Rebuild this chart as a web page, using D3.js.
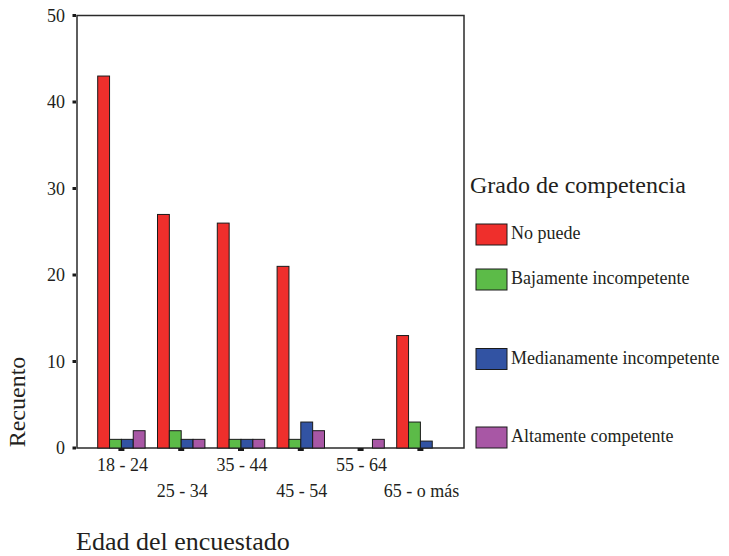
<!DOCTYPE html>
<html>
<head>
<meta charset="utf-8">
<script src="https://cdn.jsdelivr.net/npm/d3@7"></script>
<style>
  body { margin: 0; background: #fff; }
  svg text { font-family: "Liberation Serif", Tinos, "Times New Roman", Times, "DejaVu Serif", serif; fill: #231f20; }
</style>
</head>
<body>
<div id="chart"></div>
<script>
// age groups and counts per competence level
const ageGroups = ["18 - 24", "25 - 34", "35 - 44", "45 - 54", "55 - 64", "65 - o más"];
const levels = ["No puede", "Bajamente incompetente", "Medianamente incompetente", "Altamente competente"];
const noPuede = [43, 27, 26, 21, 0, 13];
const bajamente = [1, 2, 1, 1, 0, 3];
const medianamente = [1, 1, 1, 3, 0, 0.8];
const altamente = [2, 1, 1, 2, 1, 0];
const levelColors = ["#ef2f2c", "#5cbb48", "#3253a3", "#a857a5"];
const yTicks = [0, 10, 20, 30, 40, 50];

const seriesValues = [noPuede, bajamente, medianamente, altamente];

let width = 729, height = 556;
let frame = {left: 77, top: 15.5, right: 464, bottom: 448};

let svg = d3.select("#chart")
    .append("svg")
        .attr("width", width)
        .attr("height", height);

let yScale = d3.scaleLinear()
    .domain([0, 50])
    .range([frame.bottom, frame.top]);

let xScale = d3.scaleBand()
    .domain(ageGroups)
    .range([91.5, 450.3]);

let barScale = d3.scaleBand()
    .domain(levels)
    .range([6.2, xScale.bandwidth() - 6.2]);

let colorScale = d3.scaleOrdinal()
    .domain(levels)
    .range(levelColors);

// flat list of bars, empty counts are not drawn
let bars = [];
ageGroups.forEach((g, i) => {
    levels.forEach((l, j) => {
        let v = seriesValues[j][i];
        if (v > 0) bars.push({group: g, level: l, value: v});
    });
});

// frame
svg.append("rect")
    .attr("x", frame.left)
    .attr("y", frame.top)
    .attr("width", frame.right - frame.left)
    .attr("height", frame.bottom - frame.top)
    .attr("fill", "none")
    .attr("stroke", "#2a2a2a")
    .attr("stroke-width", 1.5);

// bars
svg.selectAll(".bar")
    .data(bars)
    .enter()
    .append("rect")
        .attr("class", "bar")
        .attr("x", d => xScale(d.group) + barScale(d.level))
        .attr("y", d => yScale(d.value))
        .attr("width", barScale.bandwidth())
        .attr("height", d => yScale(0) - yScale(d.value))
        .attr("fill", d => colorScale(d.level))
        .attr("stroke", "#1a1a1a")
        .attr("stroke-width", 1);

// y axis: small square ticks + labels
let yAxis = svg.append("g");
yAxis.selectAll("rect")
    .data(yTicks)
    .enter()
    .append("rect")
        .attr("x", frame.left - 4.5)
        .attr("y", d => yScale(d) - 1.5)
        .attr("width", 3.5)
        .attr("height", 3)
        .attr("fill", "#1a1a1a");
yAxis.selectAll("text")
    .data(yTicks)
    .enter()
    .append("text")
        .attr("x", 65)
        .attr("y", d => yScale(d) + 6)
        .attr("text-anchor", "end")
        .style("font-size", "18px")
        .text(d => d);

// x axis: ticks under the frame, labels on two rows
let xAxis = svg.append("g");
xAxis.selectAll("rect")
    .data(ageGroups)
    .enter()
    .append("rect")
        .attr("x", d => xScale(d) + xScale.bandwidth() / 2 - 3)
        .attr("y", frame.bottom)
        .attr("width", 6)
        .attr("height", 3)
        .attr("fill", "#1a1a1a");
xAxis.selectAll("text")
    .data(ageGroups)
    .enter()
    .append("text")
        .attr("x", d => xScale(d) + xScale.bandwidth() / 2 + 1)
        .attr("y", (d, i) => i % 2 == 0 ? 471 : 497)
        .attr("text-anchor", "middle")
        .style("font-size", "18px")
        .text(d => d);

// axis titles
svg.append("text")
    .attr("transform", "translate(25,402) rotate(-90)")
    .attr("text-anchor", "middle")
    .style("font-size", "24px")
    .text("Recuento");

svg.append("text")
    .attr("x", 76)
    .attr("y", 550)
    .style("font-size", "26px")
    .text("Edad del encuestado");

// legend
let legendY = [224, 269, 348.5, 427];
let legend = svg.append("g");
legend.append("text")
    .attr("x", 470)
    .attr("y", 193)
    .style("font-size", "24px")
    .text("Grado de competencia");

let items = legend.selectAll(".item")
    .data(levels)
    .enter()
    .append("g")
        .attr("class", "item")
        .attr("transform", (d, i) => "translate(476," + legendY[i] + ")");
items.append("rect")
    .attr("width", 31)
    .attr("height", 21)
    .attr("fill", d => colorScale(d))
    .attr("stroke", "#1a1a1a")
    .attr("stroke-width", 1);
items.append("text")
    .attr("x", 35)
    .attr("y", 15)
    .style("font-size", "18px")
    .text(d => d);
</script>
</body>
</html>
